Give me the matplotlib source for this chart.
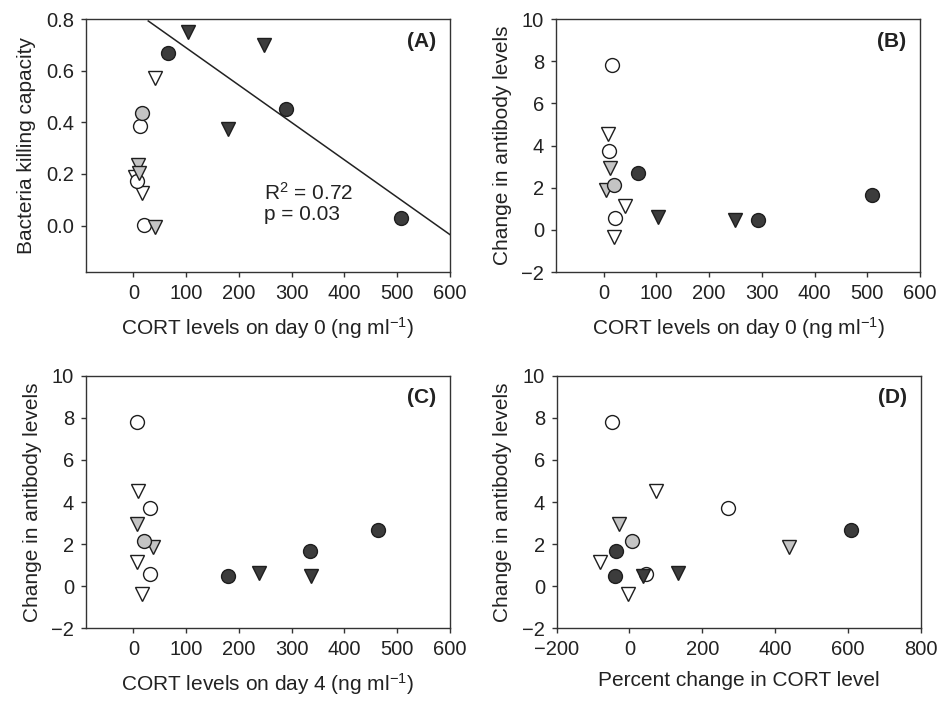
import matplotlib
matplotlib.use("Agg")
import matplotlib.pyplot as plt
import numpy as np

plt.rcParams['font.family'] = ['Liberation Sans', 'DejaVu Sans']
plt.rcParams['mathtext.default'] = 'regular'
plt.rcParams['font.size'] = 14

# ---- Panel A: bacteria killing capacity vs CORT on day 0 ----
a_white_circle_x = [13, 7, 20]
a_white_circle_y = [0.386, 0.174, 0.004]
a_white_tri_x = [41, 16, 2]
a_white_tri_y = [0.57, 0.125, 0.19]
a_gray_circle_x = [17]
a_gray_circle_y = [0.435]
a_gray_tri_x = [8, 11, 40]
a_gray_tri_y = [0.233, 0.205, -0.005]
a_dark_circle_x = [66, 290, 508]
a_dark_circle_y = [0.67, 0.45, 0.03]
a_dark_tri_x = [104, 248, 179]
a_dark_tri_y = [0.75, 0.70, 0.375]

# regression line for panel A
fit_slope = -0.001447
fit_intercept = 0.833
fit_x = [28, 600]

# ---- Change in antibody levels (shared by B, C, D) ----
ab_white_circle = [7.8, 3.72, 0.58]
ab_white_tri = [4.53, 1.15, -0.36]
ab_gray_circle = [2.13]
ab_gray_tri = [2.95, 1.88]
ab_dark_circle = [2.69, 0.48, 1.66]
ab_dark_tri = [0.63, 0.48]

# CORT on day 0
d0_white_circle = [16, 9.5, 22]
d0_white_tri = [7.6, 41, 19]
d0_gray_circle = [19]
d0_gray_tri = [11.4, 5]
d0_dark_circle = [66, 292, 509]
d0_dark_tri = [104, 249]

# CORT on day 4
d4_white_circle = [6, 32, 32]
d4_white_tri = [9.5, 7.6, 16]
d4_gray_circle = [19]
d4_gray_tri = [7.6, 37]
d4_dark_circle = [464, 179, 334]
d4_dark_tri = [237, 337]

# percent change in CORT
pc_white_circle = [-48, 272, 46]
pc_white_tri = [73, -82, -3]
pc_gray_circle = [8]
pc_gray_tri = [-30, 437]
pc_dark_circle = [609, -39, -37]
pc_dark_tri = [132, 37]

WHITE = '#ffffff'
GRAY = '#c4c4c4'
DARK = '#3c3c3c'
EDGE = '#1e1e1e'
MS = 10
LABEL_FS = 15
TICK_FS = 14.5


def draw_groups(ax, groups):
    for xs, ys, marker, fc in groups:
        ax.plot(xs, ys, linestyle='none', marker=marker, markersize=MS,
                markerfacecolor=fc, markeredgecolor=EDGE, markeredgewidth=1.0,
                clip_on=False)


def style_axes(ax, xlim, xticks, ylim, yticks, ylabels, xlabel, ylabel, tag):
    ax.set_xlim(xlim)
    ax.set_ylim(ylim)
    ax.set_xticks(xticks)
    ax.set_xticklabels([str(t).replace('-', '\u2212') for t in xticks])
    ax.set_yticks(yticks)
    ax.set_yticklabels(ylabels)
    ax.tick_params(direction='out', length=3.5, width=1, colors='#333333',
                   labelcolor='#222222', labelsize=TICK_FS, pad=5)
    for sp in ax.spines.values():
        sp.set_color('#333333')
        sp.set_linewidth(1.0)
    ax.set_xlabel(xlabel, fontsize=LABEL_FS, color='#222222', labelpad=9)
    ax.set_ylabel(ylabel, fontsize=LABEL_FS, color='#222222', labelpad=7)
    ax.text(0.962, 0.913, tag, transform=ax.transAxes, ha='right', va='center',
            fontsize=LABEL_FS, fontweight='bold', color='#222222')


fig = plt.figure(figsize=(9.41, 7.02), dpi=100)
axA = fig.add_axes([0.0914, 0.6125, 0.3868, 0.3604])
axB = fig.add_axes([0.5909, 0.6125, 0.3868, 0.3604])
axC = fig.add_axes([0.0914, 0.1054, 0.3868, 0.3590])
axD = fig.add_axes([0.5916, 0.1054, 0.3868, 0.3590])

cort0_ticks = [0, 100, 200, 300, 400, 500, 600]
ab_ticks = [-2, 0, 2, 4, 6, 8, 10]
ab_labels = [str(t).replace('-', '\u2212') for t in ab_ticks]
xlabel_d0 = 'CORT levels on day 0 (ng ml$^{\u22121}$)'
xlabel_d4 = 'CORT levels on day 4 (ng ml$^{\u22121}$)'

# Panel A
fx = np.array(fit_x)
axA.plot(fx, fit_intercept + fit_slope * fx, color='#222222', linewidth=1.1)
draw_groups(axA, [
    (a_white_tri_x, a_white_tri_y, 'v', WHITE),
    (a_white_circle_x, a_white_circle_y, 'o', WHITE),
    (a_gray_circle_x, a_gray_circle_y, 'o', GRAY),
    (a_gray_tri_x, a_gray_tri_y, 'v', GRAY),
    (a_dark_circle_x, a_dark_circle_y, 'o', DARK),
    (a_dark_tri_x, a_dark_tri_y, 'v', DARK),
])
axA.text(248, 0.10, 'R$^2$ = 0.72', fontsize=LABEL_FS, color='#222222', va='baseline')
axA.text(248, 0.022, 'p = 0.03', fontsize=LABEL_FS, color='#222222', va='baseline')
style_axes(axA, (-90, 600), cort0_ticks, (-0.18, 0.8),
           [0.0, 0.2, 0.4, 0.6, 0.8], ['0.0', '0.2', '0.4', '0.6', '0.8'],
           xlabel_d0, 'Bacteria killing capacity', '(A)')

# Panels B-D share the antibody values
panels = [
    (axB, (-90, 600), cort0_ticks, xlabel_d0, '(B)',
     d0_white_circle, d0_white_tri, d0_gray_circle, d0_gray_tri, d0_dark_circle, d0_dark_tri),
    (axC, (-90, 600), cort0_ticks, xlabel_d4, '(C)',
     d4_white_circle, d4_white_tri, d4_gray_circle, d4_gray_tri, d4_dark_circle, d4_dark_tri),
    (axD, (-200, 800), [-200, 0, 200, 400, 600, 800], 'Percent change in CORT level', '(D)',
     pc_white_circle, pc_white_tri, pc_gray_circle, pc_gray_tri, pc_dark_circle, pc_dark_tri),
]
for ax, xlim, xticks, xlabel, tag, wc, wt, gc, gt, dc, dt in panels:
    draw_groups(ax, [
        (wt, ab_white_tri, 'v', WHITE),
        (wc, ab_white_circle, 'o', WHITE),
        (gt, ab_gray_tri, 'v', GRAY),
        (gc, ab_gray_circle, 'o', GRAY),
        (dc, ab_dark_circle, 'o', DARK),
        (dt, ab_dark_tri, 'v', DARK),
    ])
    style_axes(ax, xlim, xticks, (-2, 10), ab_ticks, ab_labels,
               xlabel, 'Change in antibody levels', tag)

fig.savefig('out.png', dpi=100)
